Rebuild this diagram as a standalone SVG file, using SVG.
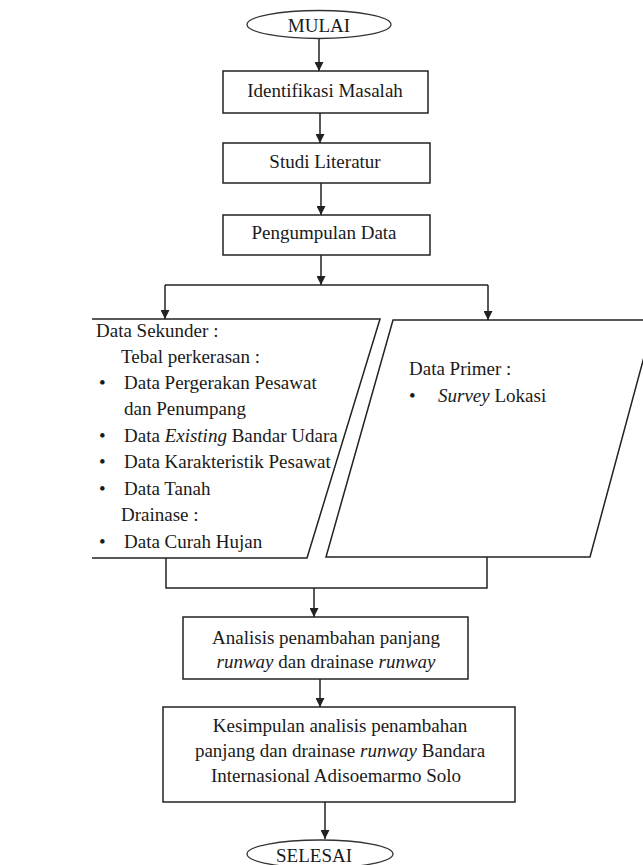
<svg xmlns="http://www.w3.org/2000/svg" width="643" height="865" viewBox="0 0 643 865">
<style>
.shape{fill:#ffffff;stroke:#222222;stroke-width:1.5}
.oval{fill:#ffffff;stroke:#333333;stroke-width:1.3}
.edge{fill:none;stroke:#222222;stroke-width:1.5}
.t{font-family:"Liberation Serif","Times New Roman",serif;font-size:19px;fill:#1a1a1a}
.c{text-anchor:middle}
.i{font-style:italic}
</style>
<defs>
<marker id="ah" viewBox="0 0 10 10" refX="10" refY="5" markerWidth="9" markerHeight="9" markerUnits="userSpaceOnUse" orient="auto">
<path d="M0,0 L10,5 L0,10 z" fill="#222222"/>
</marker>
</defs>
<rect width="643" height="865" fill="#ffffff"/>

<g id="connectors">
<line class="edge" x1="319" y1="38" x2="319" y2="71" marker-end="url(#ah)"/>
<line class="edge" x1="320" y1="113" x2="320" y2="143" marker-end="url(#ah)"/>
<line class="edge" x1="321" y1="183" x2="321" y2="215" marker-end="url(#ah)"/>
<line class="edge" x1="321" y1="255" x2="321" y2="285" marker-end="url(#ah)"/>
<line class="edge" x1="165" y1="285" x2="488" y2="285"/>
<line class="edge" x1="165" y1="285" x2="165" y2="319" marker-end="url(#ah)"/>
<line class="edge" x1="488" y1="285" x2="488" y2="320" marker-end="url(#ah)"/>
<polyline class="edge" points="166,558 166,588 487,588 487,557"/>
<line class="edge" x1="314" y1="588" x2="314" y2="617" marker-end="url(#ah)"/>
<line class="edge" x1="320" y1="679" x2="320" y2="707" marker-end="url(#ah)"/>
<line class="edge" x1="325" y1="802" x2="325" y2="839" marker-end="url(#ah)"/>
</g>

<g id="mulai">
<ellipse class="oval" cx="319" cy="24.5" rx="72" ry="14"/>
<text class="t c" x="319" y="32">MULAI</text>
</g>

<g id="identifikasi">
<rect class="shape" x="223" y="71" width="205" height="42"/>
<text class="t c" x="325" y="97">Identifikasi Masalah</text>
</g>

<g id="studi">
<rect class="shape" x="223" y="143" width="207" height="40"/>
<text class="t c" x="325" y="168">Studi Literatur</text>
</g>

<g id="pengumpulan">
<rect class="shape" x="223" y="215" width="207" height="40"/>
<text class="t c" x="324" y="239">Pengumpulan Data</text>
</g>

<g id="data-sekunder">
<path class="edge" d="M92,319 L380,319 L307,558 L92,558"/>
<text class="t" x="96" y="337">Data Sekunder :</text>
<text class="t" x="121" y="363">Tebal perkerasan :</text>
<text class="t" x="99" y="389">•</text>
<text class="t" x="124" y="389">Data Pergerakan Pesawat</text>
<text class="t" x="124" y="415">dan Penumpang</text>
<text class="t" x="99" y="442">•</text>
<text class="t" x="124" y="442">Data <tspan class="i">Existing</tspan> Bandar Udara</text>
<text class="t" x="99" y="468">•</text>
<text class="t" x="124" y="468">Data Karakteristik Pesawat</text>
<text class="t" x="99" y="495">•</text>
<text class="t" x="124" y="495">Data Tanah</text>
<text class="t" x="121" y="521">Drainase :</text>
<text class="t" x="99" y="548">•</text>
<text class="t" x="124" y="548">Data Curah Hujan</text>
</g>

<g id="data-primer">
<polygon class="shape" points="393,320 654,320 590,557 326,557"/>
<text class="t" x="409" y="375">Data Primer :</text>
<text class="t" x="409" y="402">•</text>
<text class="t" x="438" y="402"><tspan class="i">Survey</tspan> Lokasi</text>
</g>

<g id="analisis">
<rect class="shape" x="183" y="617" width="285" height="62"/>
<text class="t c" x="326" y="644">Analisis penambahan panjang</text>
<text class="t c" x="326" y="668"><tspan class="i">runway</tspan> dan drainase <tspan class="i">runway</tspan></text>
</g>

<g id="kesimpulan">
<rect class="shape" x="163" y="707" width="352" height="95"/>
<text class="t c" x="340" y="732">Kesimpulan analisis penambahan</text>
<text class="t c" x="340" y="757">panjang dan drainase <tspan class="i">runway</tspan> Bandara</text>
<text class="t c" x="336" y="782">Internasional Adisoemarmo Solo</text>
</g>

<g id="selesai">
<ellipse class="oval" cx="320" cy="854" rx="73" ry="14"/>
<text class="t c" x="314" y="862">SELESAI</text>
</g>
</svg>
